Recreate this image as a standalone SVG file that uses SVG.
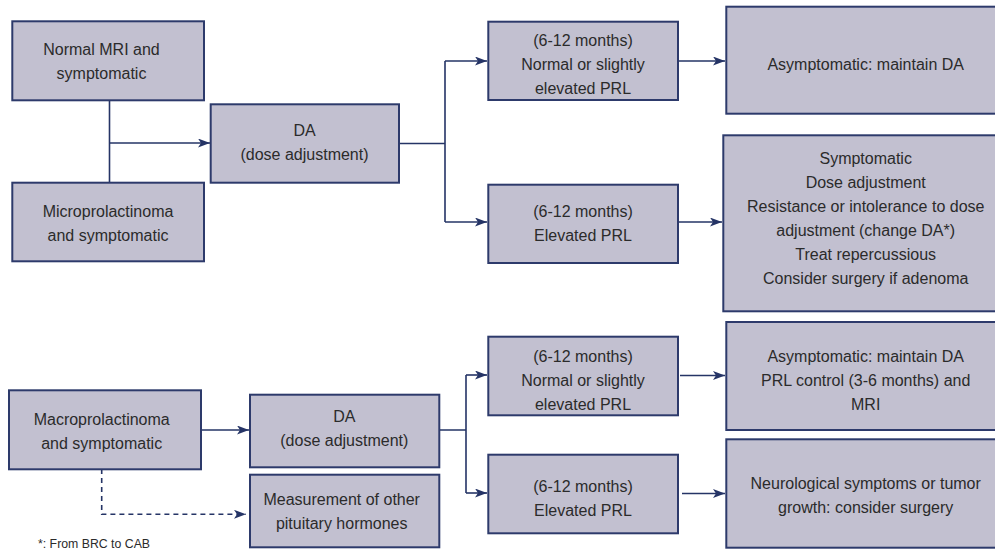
<svg xmlns="http://www.w3.org/2000/svg" width="995" height="552" viewBox="0 0 995 552">
  <style>
    .box { fill: #c2c0d0; stroke: #2d3a6b; stroke-width: 2; }
    .t { font-family: "Liberation Sans", Arial, sans-serif; font-size: 16px; fill: #2b2b2b; text-anchor: middle; }
    .fn { font-family: "Liberation Sans", Arial, sans-serif; font-size: 12.3px; fill: #2b2b2b; }
    .ln { fill: none; stroke: #253466; stroke-width: 1.6; }
    .arr { marker-end: url(#ah); }
    .dash { stroke-dasharray: 5 4; }
  </style>
  <defs>
    <marker id="ah" markerUnits="userSpaceOnUse" markerWidth="13" markerHeight="10" refX="12" refY="4.5" orient="auto">
      <path d="M0,0 L12,4.5 L0,9 L3,4.5 z" fill="#253466"/>
    </marker>
  </defs>
  <rect width="995" height="552" fill="#ffffff"/>

  <g id="connectors">
    <path class="ln" d="M109.5,100 V183"/>
    <path class="ln arr" d="M109.5,143 H210"/>
    <path class="ln" d="M399,143.5 H445 M445,61 V222"/>
    <path class="ln arr" d="M445,61 H487"/>
    <path class="ln arr" d="M445,222 H487"/>
    <path class="ln arr" d="M678,61 H725"/>
    <path class="ln arr" d="M678,222 H722"/>
    <path class="ln arr" d="M201,430 H249"/>
    <path class="ln" d="M439,430 H466 M466,375 V493"/>
    <path class="ln arr" d="M466,375 H487"/>
    <path class="ln arr" d="M466,493 H487"/>
    <path class="ln arr" d="M680,375.5 H725"/>
    <path class="ln arr" d="M682,493.5 H725"/>
    <path class="ln arr dash" d="M101.7,469 V514.3 H246"/>
  </g>

  <g id="n-normal-mri">
    <rect class="box" x="12.3" y="21.3" width="191.7" height="79"/>
    <text class="t" x="101.5" y="55">Normal MRI and</text>
    <text class="t" x="101.5" y="79">symptomatic</text>
  </g>
  <g id="n-micro">
    <rect class="box" x="12.3" y="182.7" width="191.7" height="78.6"/>
    <text class="t" x="108" y="217">Microprolactinoma</text>
    <text class="t" x="108" y="241">and symptomatic</text>
  </g>
  <g id="n-da1">
    <rect class="box" x="210.7" y="104.3" width="188.3" height="78.4"/>
    <text class="t" x="304.5" y="136">DA</text>
    <text class="t" x="304.5" y="160">(dose adjustment)</text>
  </g>
  <g id="n-normal-prl-1">
    <rect class="box" x="488.3" y="21.7" width="189.7" height="78.3"/>
    <text class="t" x="583" y="46">(6-12 months)</text>
    <text class="t" x="583" y="70">Normal or slightly</text>
    <text class="t" x="583" y="94">elevated PRL</text>
  </g>
  <g id="n-elev-prl-1">
    <rect class="box" x="488.3" y="184.7" width="189.7" height="78.3"/>
    <text class="t" x="583" y="217">(6-12 months)</text>
    <text class="t" x="583" y="241">Elevated PRL</text>
  </g>
  <g id="n-asympt-1">
    <rect class="box" x="726.3" y="6.7" width="280" height="107"/>
    <text class="t" x="865.7" y="70">Asymptomatic: maintain DA</text>
  </g>
  <g id="n-sympt-1">
    <rect class="box" x="723.3" y="135.3" width="283" height="176"/>
    <text class="t" x="865.7" y="164">Symptomatic</text>
    <text class="t" x="865.7" y="188">Dose adjustment</text>
    <text class="t" x="865.7" y="212">Resistance or intolerance to dose</text>
    <text class="t" x="865.7" y="236">adjustment (change DA*)</text>
    <text class="t" x="865.7" y="260">Treat repercussious</text>
    <text class="t" x="865.7" y="284">Consider surgery if adenoma</text>
  </g>

  <g id="n-macro">
    <rect class="box" x="9" y="390.3" width="192" height="79"/>
    <text class="t" x="101.7" y="425">Macroprolactinoma</text>
    <text class="t" x="101.7" y="448.5">and symptomatic</text>
  </g>
  <g id="n-da2">
    <rect class="box" x="250" y="394.7" width="189.3" height="72.6"/>
    <text class="t" x="344.3" y="422">DA</text>
    <text class="t" x="344.3" y="446">(dose adjustment)</text>
  </g>
  <g id="n-measure">
    <rect class="box" x="250" y="474.7" width="189.3" height="72.6"/>
    <text class="t" x="341.7" y="505">Measurement of other</text>
    <text class="t" x="341.7" y="529.3">pituitary hormones</text>
  </g>
  <g id="n-normal-prl-2">
    <rect class="box" x="488.3" y="336.7" width="189.7" height="78.6"/>
    <text class="t" x="583" y="361.7">(6-12 months)</text>
    <text class="t" x="583" y="385.7">Normal or slightly</text>
    <text class="t" x="583" y="409.7">elevated PRL</text>
  </g>
  <g id="n-elev-prl-2">
    <rect class="box" x="488.3" y="454.7" width="189.7" height="78.6"/>
    <text class="t" x="583" y="491.7">(6-12 months)</text>
    <text class="t" x="583" y="515.5">Elevated PRL</text>
  </g>
  <g id="n-asympt-2">
    <rect class="box" x="726.3" y="322" width="280" height="108"/>
    <text class="t" x="865.7" y="361.7">Asymptomatic: maintain DA</text>
    <text class="t" x="865.7" y="385.7">PRL control (3-6 months) and</text>
    <text class="t" x="865.7" y="409.7">MRI</text>
  </g>
  <g id="n-neuro">
    <rect class="box" x="726.3" y="439.3" width="280" height="108.4"/>
    <text class="t" x="865.7" y="489">Neurological symptoms or tumor</text>
    <text class="t" x="865.7" y="512.5">growth: consider surgery</text>
  </g>

  <text class="fn" x="38" y="548">*: From BRC to CAB</text>
</svg>
